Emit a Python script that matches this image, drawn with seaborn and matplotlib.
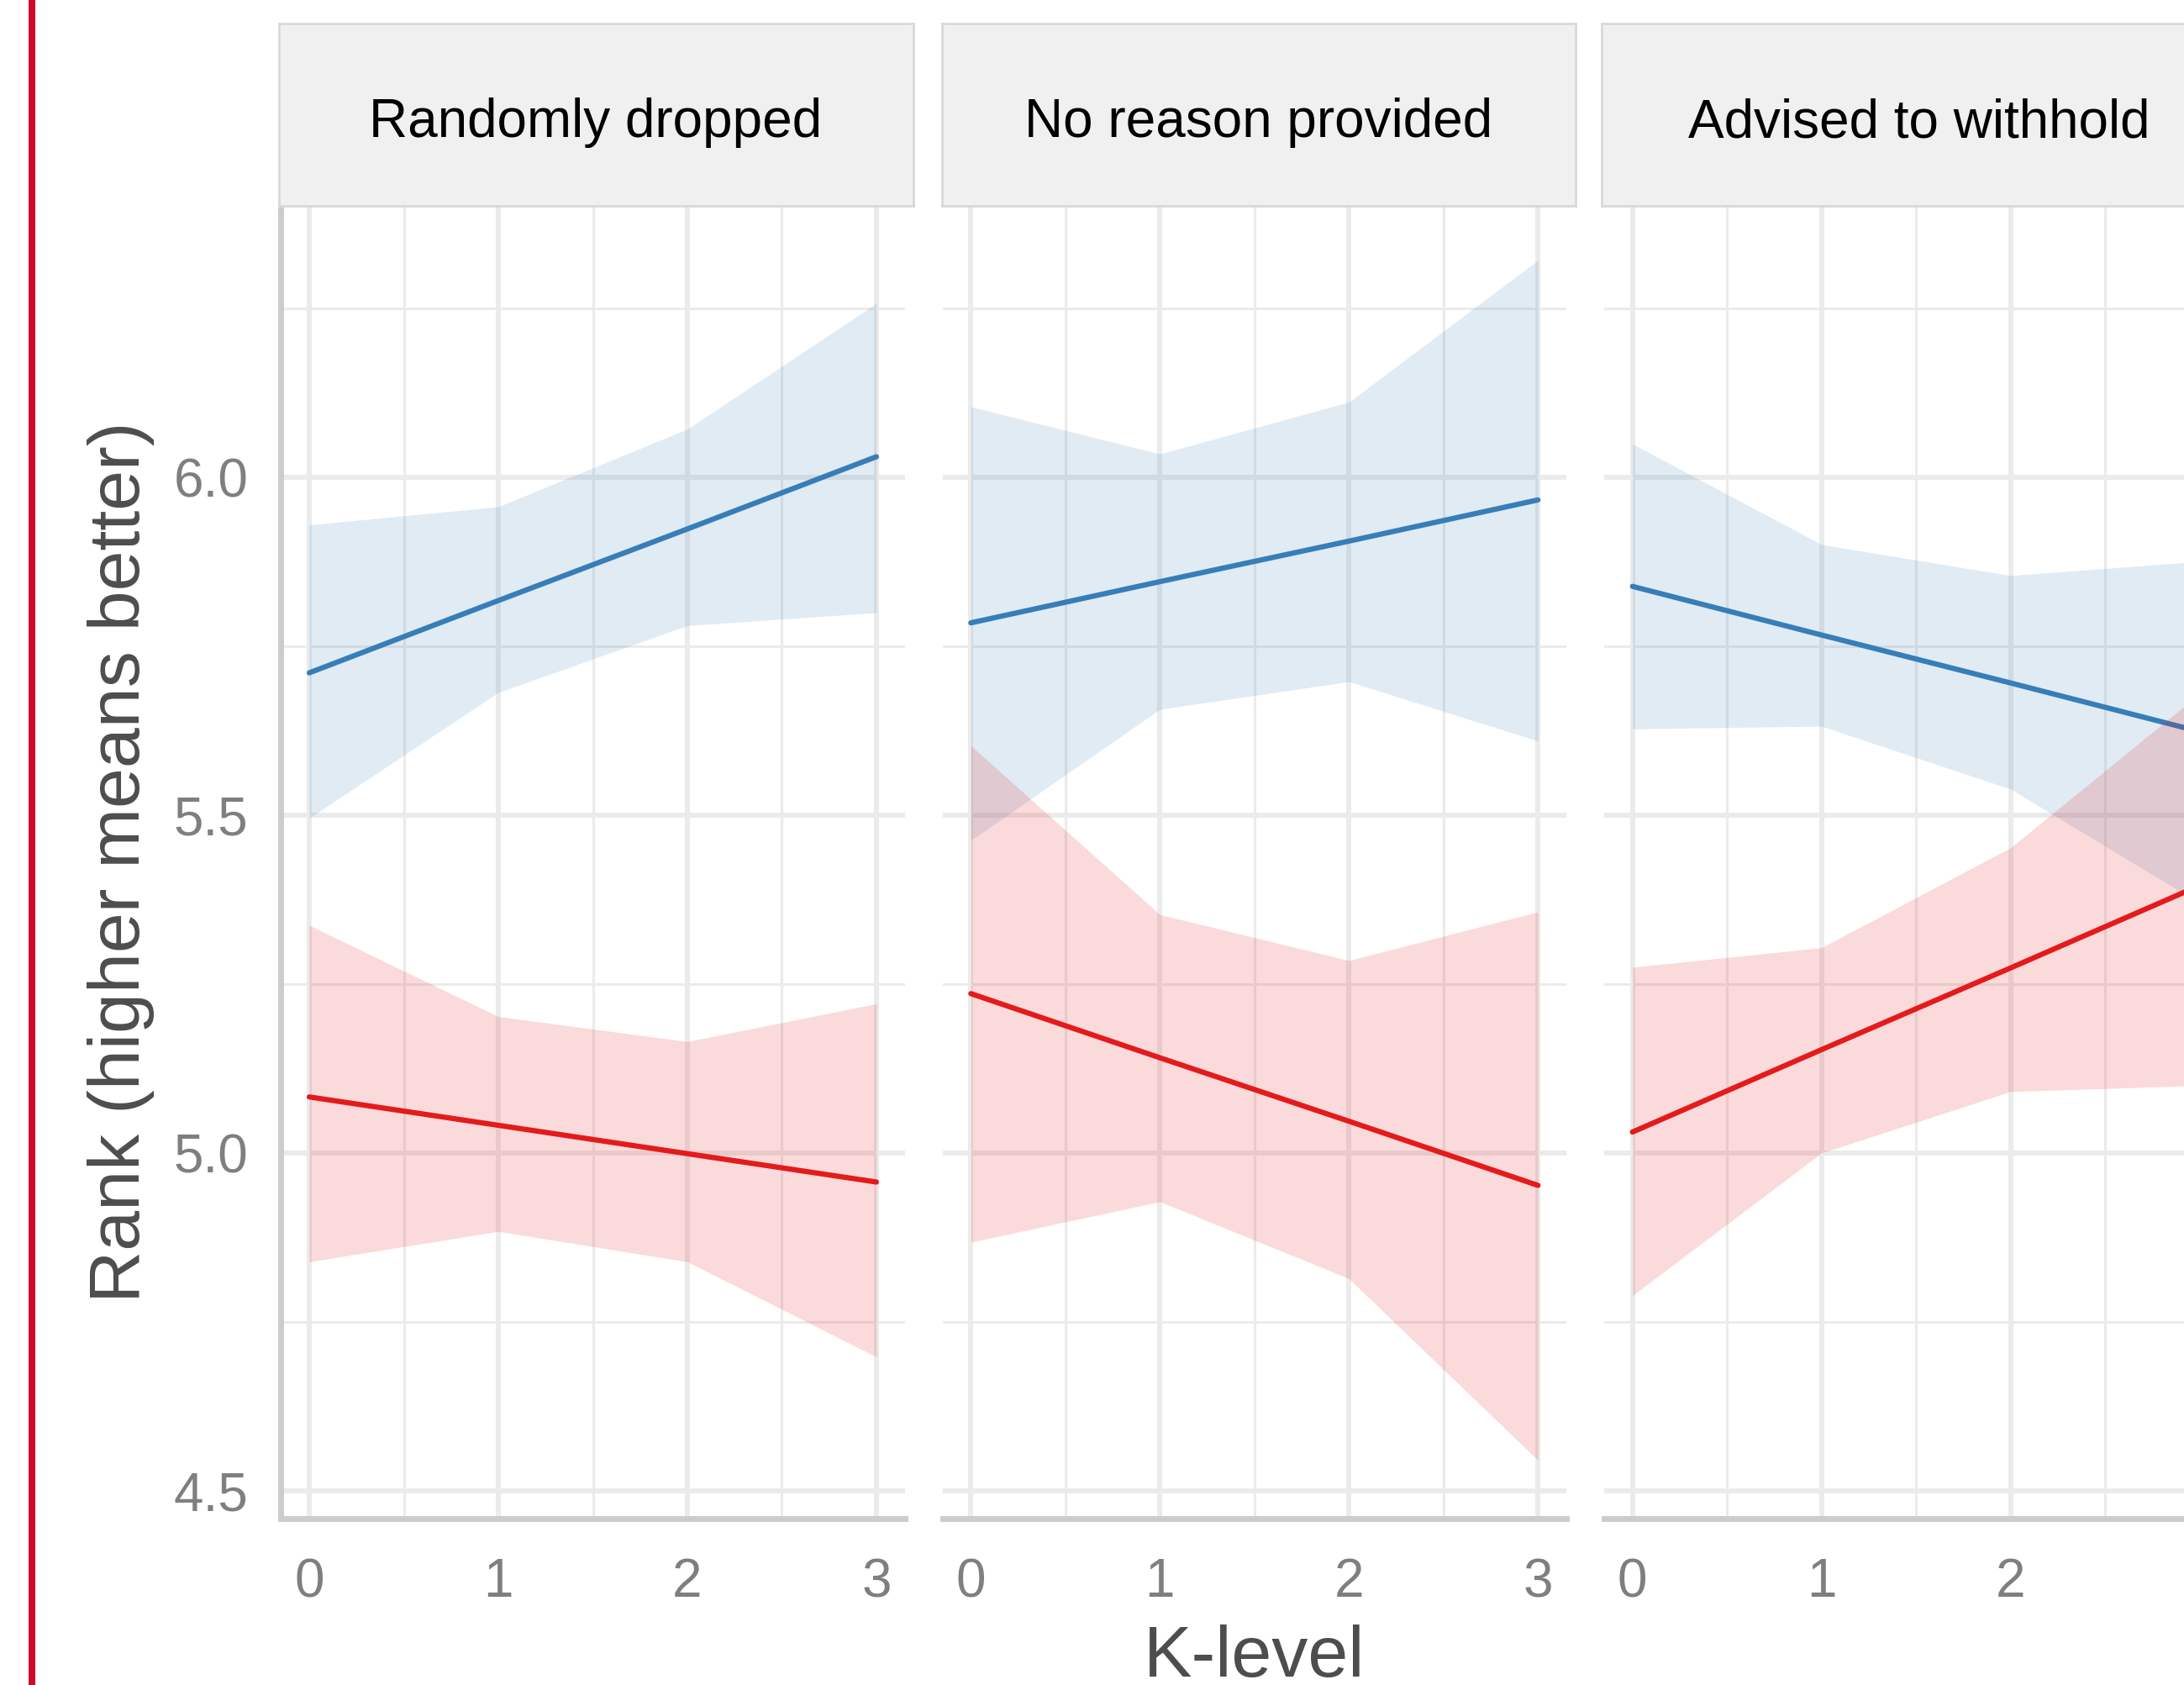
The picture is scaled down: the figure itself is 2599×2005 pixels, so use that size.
import matplotlib
matplotlib.use("Agg")
import matplotlib.pyplot as plt
import seaborn as sns
import pandas as pd
from matplotlib.lines import Line2D

# facet titles and x values
panels = ["Randomly dropped", "No reason provided", "Advised to withhold"]
k_levels = [0, 1, 2, 3]
groups = ["High", "Low"]

# fitted line + confidence band
random_blue_fit = [5.711, 5.818, 5.924, 6.031]
random_blue_lo = [5.496, 5.682, 5.781, 5.800]
random_blue_hi = [5.930, 5.957, 6.072, 6.258]
random_red_fit = [5.083, 5.041, 4.999, 4.957]
random_red_lo = [4.839, 4.884, 4.839, 4.698]
random_red_hi = [5.337, 5.202, 5.165, 5.221]

noreason_blue_fit = [5.785, 5.846, 5.906, 5.967]
noreason_blue_lo = [5.463, 5.657, 5.698, 5.610]
noreason_blue_hi = [6.105, 6.035, 6.112, 6.322]
noreason_red_fit = [5.236, 5.141, 5.047, 4.952]
noreason_red_lo = [4.868, 4.928, 4.814, 4.545]
noreason_red_hi = [5.603, 5.353, 5.285, 5.357]

advised_blue_fit = [5.839, 5.767, 5.696, 5.624]
advised_blue_lo = [5.628, 5.632, 5.539, 5.370]
advised_blue_hi = [6.050, 5.901, 5.855, 5.876]
advised_red_fit = [5.031, 5.153, 5.274, 5.396]
advised_red_lo = [4.789, 5.000, 5.091, 5.100]
advised_red_hi = [5.275, 5.304, 5.452, 5.680]

panel_data = [
    (random_blue_fit, random_blue_lo, random_blue_hi, random_red_fit, random_red_lo, random_red_hi),
    (noreason_blue_fit, noreason_blue_lo, noreason_blue_hi, noreason_red_fit, noreason_red_lo, noreason_red_hi),
    (advised_blue_fit, advised_blue_lo, advised_blue_hi, advised_red_fit, advised_red_lo, advised_red_hi),
]

colors = {"High": "#377EB8", "Low": "#E41A1C"}

sns.set_theme(style="whitegrid")
plt.rcParams["font.family"] = ["Liberation Sans", "DejaVu Sans"]

W, H = 2599, 2005
fig = plt.figure(figsize=(W / 100, H / 100), dpi=100)
fig.patch.set_facecolor("white")

# red bar on the left edge
fig.add_artist(Line2D([38 / W, 38 / W], [0, 1], transform=fig.transFigure,
                      color="#cf0a2c", lw=8 * 0.72))

panel_left = [334.3, 1121.6, 1908.9]
panel_w = 742.4
strip_left = [331.5, 1120.5, 1906.0]
strip_w = 755

for i, name in enumerate(panels):
    ax = fig.add_axes([panel_left[i] / W, (H - 1806.7) / H, panel_w / W, 1561.4 / H])
    bfit, blo, bhi, rfit, rlo, rhi = panel_data[i]

    df_blue = pd.DataFrame({"K-level": k_levels, "Rank": bfit, "group": "High"})
    df_red = pd.DataFrame({"K-level": k_levels, "Rank": rfit, "group": "Low"})

    ax.fill_between(k_levels, blo, bhi, color=colors["High"], alpha=0.15, lw=0, zorder=2)
    sns.lineplot(data=df_blue, x="K-level", y="Rank", hue="group", palette=colors,
                 ax=ax, legend=False, lw=4.5, zorder=3)
    ax.fill_between(k_levels, rlo, rhi, color=colors["Low"], alpha=0.16, lw=0, zorder=4)
    sns.lineplot(data=df_red, x="K-level", y="Rank", hue="group", palette=colors,
                 ax=ax, legend=False, lw=4.5, zorder=5)

    ax.set_xlim(-0.15, 3.15)
    ax.set_ylim(4.459, 6.402)
    ax.set_xticks(k_levels)
    if i == 2:
        # the last label falls outside the cropped frame
        ax.set_xticklabels(["0", "1", "2", ""])
    ax.set_xticks([0.5, 1.5, 2.5], minor=True)
    ax.set_yticks([4.5, 5.0, 5.5, 6.0])
    ax.set_yticks([4.75, 5.25, 5.75, 6.25], minor=True)
    ax.set_facecolor("white")
    ax.set_axisbelow(True)
    ax.grid(which="major", color="#ebebeb", lw=4.3)
    ax.grid(which="minor", color="#ebebeb", lw=2.2)
    ax.tick_params(which="both", length=0)
    ax.tick_params(axis="x", labelsize=46, labelcolor="#7f7f7f", pad=33.5)
    ax.tick_params(axis="y", labelsize=46, labelcolor="#7f7f7f", pad=28)

    for s in ["top", "right"]:
        ax.spines[s].set_visible(False)
    ax.spines["bottom"].set_color("#cccccc")
    ax.spines["bottom"].set_linewidth(5)
    if i == 0:
        ax.spines["left"].set_color("#cccccc")
        ax.spines["left"].set_linewidth(5)
        ax.set_ylabel("Rank (higher means better)", fontsize=62, color="#4d4d4d", labelpad=16)
    else:
        ax.spines["left"].set_visible(False)
        ax.set_yticklabels([])
        ax.set_ylabel("")
    if i == 1:
        ax.set_xlabel("K-level", fontsize=62, color="#4d4d4d", labelpad=14)
    else:
        ax.set_xlabel("")

    # facet strip
    sax = fig.add_axes([strip_left[i] / W, (H - 245) / H, strip_w / W, 217 / H])
    sax.set_facecolor("#f0f0f0")
    sax.set_xticks([])
    sax.set_yticks([])
    sax.grid(False)
    for s in sax.spines.values():
        s.set_color("#d9d9d9")
        s.set_linewidth(2)
    sax.text(0.5, 0.455, name, transform=sax.transAxes, ha="center", va="center",
             fontsize=46, color="black")

fig.savefig("out.png", dpi=100)
plt.close(fig)
